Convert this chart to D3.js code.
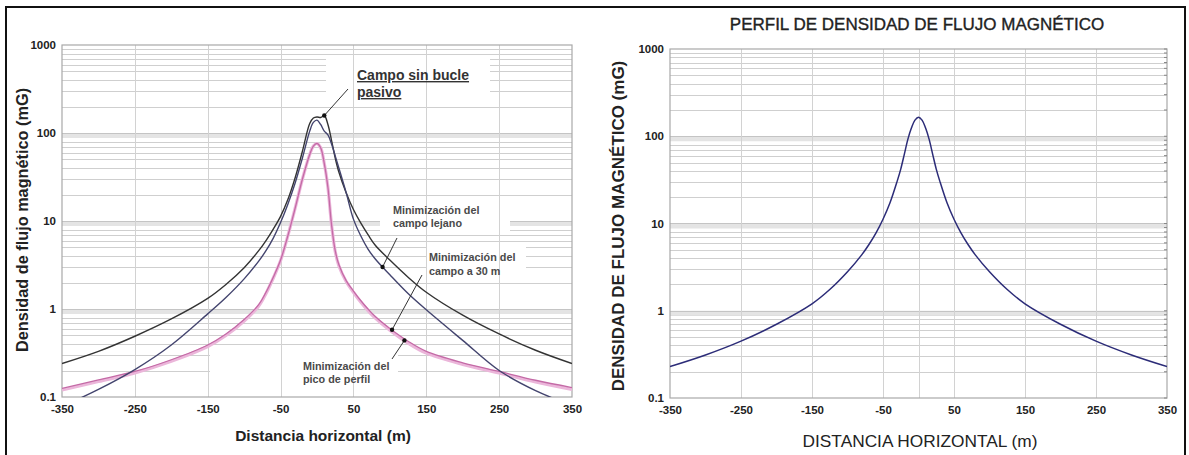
<!DOCTYPE html>
<html>
<head>
<meta charset="utf-8">
<script src="https://cdn.jsdelivr.net/npm/d3@7"></script>
<style>
  body { margin: 0; background: #fff; }
  svg { display: block; font-family: "Liberation Sans", Arial, sans-serif; }
</style>
</head>
<body>
<svg id="chart"></svg>
<script>
// x ticks / y ticks shared by both panels
var xTicks = [-350, -250, -150, -50, 50, 150, 250, 350];
var yTicks = [0.1, 1, 10, 100, 1000];
var yTickLabels = ["0.1", "1", "10", "100", "1000"];

// left panel: distances (m) and the four field profiles (mG)
var distLeft = [-350, -300, -250, -200, -150, -125, -100, -80, -70, -60, -50, -40, -30, -20, -10, -5, 0, 5, 10, 15, 20, 25, 30, 40, 50, 60, 70, 80, 100, 125, 150, 200, 250, 300, 350];
var sinBucle = [0.24, 0.33, 0.49, 0.77, 1.32, 1.9, 2.95, 4.6, 6.0, 8.1, 11.3, 17.5, 31, 62, 128, 148, 152, 150, 158, 125, 82, 52, 36, 21, 13.5, 9.5, 7.0, 5.3, 3.6, 2.3, 1.55, 0.85, 0.52, 0.34, 0.24];
var campoLejano = [0.078, 0.122, 0.205, 0.39, 0.88, 1.35, 2.2, 3.5, 4.6, 6.4, 9.6, 15.5, 27, 52, 105, 132, 140, 125, 105, 95, 75, 55, 40, 21, 10.5, 6.8, 4.8, 3.7, 2.45, 1.5, 0.98, 0.44, 0.2, 0.118, 0.08];
var campo30m = [0.125, 0.157, 0.195, 0.265, 0.39, 0.52, 0.76, 1.12, 1.55, 2.3, 3.6, 6.8, 14, 30, 57, 71, 76, 68, 45, 24, 9, 4.6, 3.2, 2.1, 1.6, 1.25, 1.0, 0.82, 0.6, 0.43, 0.33, 0.245, 0.195, 0.155, 0.128];
var picoPerfil = [0.12, 0.15, 0.188, 0.255, 0.375, 0.5, 0.73, 1.08, 1.5, 2.25, 3.55, 6.8, 14, 30, 57, 71, 76, 68, 45, 24, 9, 4.5, 3.1, 2.05, 1.55, 1.2, 0.96, 0.79, 0.575, 0.41, 0.315, 0.235, 0.188, 0.148, 0.122];

// right panel: single profile
var distRight = [-350, -300, -250, -200, -150, -125, -100, -80, -70, -60, -50, -40, -30, -25, -20, -15, -10, -5, 0, 5, 10, 15, 20, 25, 30, 40, 50, 60, 70, 80, 100, 125, 150, 200, 250, 300, 350];
var perfil = [0.229, 0.311, 0.448, 0.7, 1.2, 1.75, 2.8, 4.37, 5.71, 7.77, 11.2, 17.4, 30.6, 42, 62, 92, 124, 153, 165, 153, 124, 92, 62, 42, 30.6, 17.4, 11.2, 7.77, 5.71, 4.37, 2.8, 1.75, 1.2, 0.7, 0.448, 0.311, 0.229];

var W = 1189, H = 455;
var svg = d3.select("#chart").attr("width", W).attr("height", H);

// minor log positions for the horizontal grid
var minorVals = [];
[0.1, 1, 10, 100].forEach(function (d) {
    for (var k = 2; k <= 9; k++) minorVals.push(d * k);
});

function zip(xs, ys) {
    return xs.map(function (x, i) { return [x, ys[i]]; });
}

function drawFrame(g, x, y, cfg) {
    var x0 = x.range()[0], x1 = x.range()[1];
    var y0 = y.range()[0], y1 = y.range()[1];

    // minor horizontal lines
    g.append("g").selectAll("line").data(minorVals).join("line")
        .attr("x1", x0).attr("x2", x1)
        .attr("y1", function (d) { return Math.round(y(d)) + 0.5; })
        .attr("y2", function (d) { return Math.round(y(d)) + 0.5; })
        .attr("stroke", "#cfcfcf").attr("stroke-width", 1);

    // decade bands
    g.append("g").selectAll("rect").data(yTicks.slice(1, 4)).join("rect")
        .attr("x", x0).attr("width", x1 - x0)
        .attr("y", function (d) { return y(d); }).attr("height", 5)
        .attr("fill", "#e4e4e4");
    g.append("g").selectAll("line").data(yTicks.slice(1, 4)).join("line")
        .attr("x1", x0).attr("x2", x1)
        .attr("y1", function (d) { return Math.round(y(d)) + 0.5; })
        .attr("y2", function (d) { return Math.round(y(d)) + 0.5; })
        .attr("stroke", "#c4c4c4");

    // white patches behind callouts
    (cfg.patches || []).forEach(function (p) {
        g.append("rect").attr("x", p[0]).attr("y", p[1]).attr("width", p[2]).attr("height", p[3]).attr("fill", "#fff");
    });

    // vertical grid
    g.append("g").selectAll("line").data(cfg.vGrid).join("line")
        .attr("x1", function (d) { return Math.round(x(d)) + 0.5; })
        .attr("x2", function (d) { return Math.round(x(d)) + 0.5; })
        .attr("y1", y1).attr("y2", y0)
        .attr("stroke", "#d2d2d2");

    g.append("rect")
        .attr("x", x0).attr("y", y1).attr("width", x1 - x0).attr("height", y0 - y1)
        .attr("fill", "none").attr("stroke", "#a8a8a8").attr("stroke-width", 1.2);

    // axes
    var xAxis = d3.axisBottom(x).tickValues(xTicks).tickSize(0).tickPadding(8)
        .tickFormat(function (d) { return d; });
    g.append("g").attr("transform", "translate(0," + y0 + ")").call(xAxis)
        .call(function (a) { a.select(".domain").remove(); })
        .selectAll("text")
        .attr("font-family", "Liberation Sans, Arial, sans-serif")
        .attr("font-size", 11.5).attr("font-weight", "bold").attr("fill", "#222");

    var yAxis = d3.axisLeft(y).tickValues(yTicks).tickSize(0).tickPadding(5)
        .tickFormat(function (d, i) { return yTickLabels[i]; });
    g.append("g").attr("transform", "translate(" + (x0 - 1) + ",0)").call(yAxis)
        .call(function (a) { a.select(".domain").remove(); })
        .selectAll("text")
        .attr("font-family", "Liberation Sans, Arial, sans-serif")
        .attr("font-size", 11.5).attr("font-weight", "bold").attr("fill", "#222");
}

function drawCurve(g, x, y, pts, color, width, clipId) {
    var line = d3.line()
        .x(function (d) { return x(d[0]); })
        .y(function (d) { return y(d[1]); })
        .curve(d3.curveCatmullRom.alpha(0.5));
    g.append("path").datum(pts)
        .attr("d", line)
        .attr("fill", "none")
        .attr("stroke", color)
        .attr("stroke-width", width)
        .attr("stroke-linejoin", "round")
        .attr("clip-path", "url(#" + clipId + ")");
}

function addClip(id, x, y) {
    svg.append("defs").append("clipPath").attr("id", id).append("rect")
        .attr("x", x.range()[0]).attr("y", y.range()[1])
        .attr("width", x.range()[1] - x.range()[0])
        .attr("height", y.range()[0] - y.range()[1]);
}

function callout(g, lines, tx, ty, lh, size, from, to, underline) {
    var t = g.append("text").attr("font-size", size).attr("font-weight", "bold")
        .attr("fill", underline ? "#333" : "#4a4a4a");
    lines.forEach(function (s, i) {
        t.append("tspan").attr("x", tx).attr("y", ty + i * lh).text(s)
            .attr("text-decoration", underline ? "underline" : null);
    });
    g.append("line").attr("x1", from[0]).attr("y1", from[1]).attr("x2", to[0]).attr("y2", to[1])
        .attr("stroke", "#333").attr("stroke-width", 1);
    g.append("circle").attr("cx", to[0]).attr("cy", to[1]).attr("r", 2.2).attr("fill", "#111");
}

// ---------- left panel ----------
var xL = d3.scaleLinear().domain([-350, 350]).range([62, 572]);
var yL = d3.scaleLog().domain([0.1, 1000]).range([397, 45]);
var gL = svg.append("g");
addClip("clipL", xL, yL);
drawFrame(gL, xL, yL, {
    vGrid: [-250, -150, -50, 50, 150, 250],
    patches: [[326, 56, 164, 44], [380, 200, 130, 31], [426, 247, 100, 33], [210, 353, 188, 43]]
});
drawCurve(gL, xL, yL, zip(distLeft, picoPerfil), "#ebb6da", 3.2, "clipL");
drawCurve(gL, xL, yL, zip(distLeft, campo30m), "#c46aa6", 1.3, "clipL");
drawCurve(gL, xL, yL, zip(distLeft, sinBucle), "#333333", 1.4, "clipL");
drawCurve(gL, xL, yL, zip(distLeft, campoLejano), "#43446e", 1.4, "clipL");

callout(gL, ["Campo sin bucle", "pasivo"], 357, 80, 17, 14, [348, 89], [xL(10), yL(158)], true);
callout(gL, ["Minimización del", "campo lejano"], 393, 214, 12.5, 10.8, [397, 238], [xL(90), yL(3.0)], false);
callout(gL, ["Minimización del", "campo a 30 m"], 429, 261, 14, 10.8, [422, 275], [xL(103), yL(0.58)], false);
callout(gL, ["Minimización del", "pico de perfil"], 303, 370, 13, 10.8, [392, 359], [xL(120), yL(0.44)], false);

gL.append("text")
    .attr("x", 323).attr("y", 441).attr("text-anchor", "middle")
    .attr("font-size", 15.5).attr("font-weight", "bold").attr("fill", "#222")
    .text("Distancia horizontal (m)");
gL.append("text")
    .attr("transform", "translate(28,220) rotate(-90)").attr("text-anchor", "middle")
    .attr("font-size", 16.3).attr("font-weight", "bold").attr("fill", "#222")
    .text("Densidad de flujo magnético (mG)");

// ---------- right panel ----------
var xR = d3.scaleLinear().domain([-350, 350]).range([670, 1167]);
var yR = d3.scaleLog().domain([0.1, 1000]).range([398, 49]);
var gR = svg.append("g");
addClip("clipR", xR, yR);
drawFrame(gR, xR, yR, { vGrid: [-250, -150, -50, 0, 50, 150, 250] });

// small ticks on right edge
gR.append("g").selectAll("line").data(minorVals.concat(yTicks)).join("line")
    .attr("x1", xR(350) - 3).attr("x2", xR(350))
    .attr("y1", function (d) { return yR(d); }).attr("y2", function (d) { return yR(d); })
    .attr("stroke", "#888");

drawCurve(gR, xR, yR, zip(distRight, perfil), "#2c2c78", 1.5, "clipR");

gR.append("text")
    .attr("x", 917).attr("y", 30).attr("text-anchor", "middle")
    .attr("font-size", 17).attr("fill", "#222").attr("stroke", "#222").attr("stroke-width", 0.35)
    .text("PERFIL DE DENSIDAD DE FLUJO MAGNÉTICO");
gR.append("text")
    .attr("x", 920).attr("y", 447).attr("text-anchor", "middle")
    .attr("font-size", 17.3).attr("fill", "#222")
    .text("DISTANCIA HORIZONTAL (m)");
gR.append("text")
    .attr("transform", "translate(624,226) rotate(-90)").attr("text-anchor", "middle")
    .attr("font-size", 17).attr("font-weight", "bold").attr("fill", "#222")
    .text("DENSIDAD DE FLUJO MAGNÉTICO (mG)");

// outer border
svg.append("rect").attr("x", 6).attr("y", 7).attr("width", 1179).attr("height", 460)
    .attr("fill", "none").attr("stroke", "#111").attr("stroke-width", 2);
</script>
</body>
</html>
